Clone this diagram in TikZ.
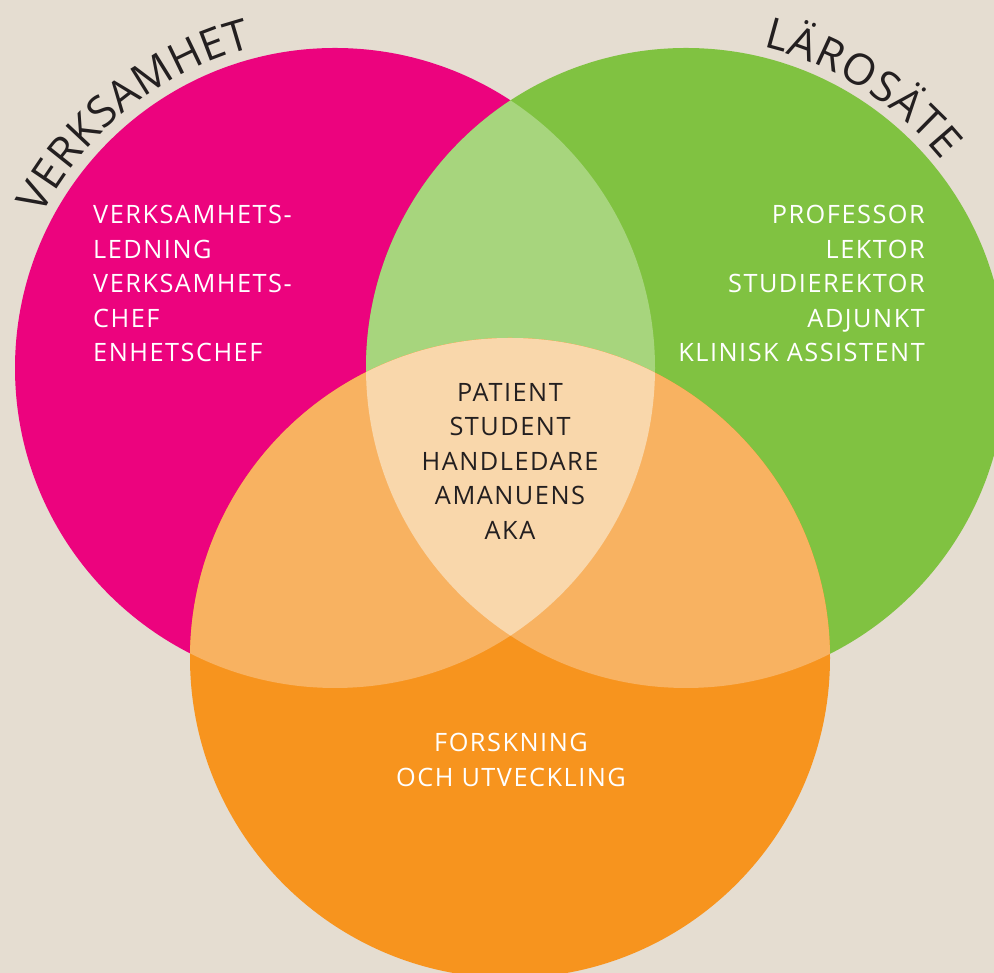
\documentclass[tikz,border=0pt]{standalone}
\usepackage{fontspec}
\setmainfont{Open Sans}
\newfontfamily\blockfont[LetterSpace=6]{Open Sans}
\usetikzlibrary{decorations.text}
\definecolor{bg}{HTML}{E5DDD1}
\definecolor{vpink}{HTML}{EC037E}
\definecolor{vgreen}{HTML}{80C241}
\definecolor{vlgreen}{HTML}{A7D57D}
\definecolor{vorange}{HTML}{F7941E}
\definecolor{vlorange}{HTML}{F8B261}
\definecolor{vpeach}{HTML}{F9D7AB}
\definecolor{tdark}{HTML}{231F20}
\tikzset{
  blocktext/.style={inner sep=0pt, font={\blockfont\fontsize{25.3}{34.5}\selectfont}},
  whitetext/.style={blocktext, text=white},
  darktext/.style={blocktext, text=tdark},
  arctext/.style={decorate, decoration={text along path, text={#1}, text align=fit to path, text color=tdark}}
}
\begin{document}
\begin{tikzpicture}[x=1pt,y=1pt]
\useasboundingbox (0,0) rectangle (994,973);
\clip (0,0) rectangle (994,973);
\fill[bg] (0,0) rectangle (994,973);
\coordinate (P) at (335,605);
\coordinate (G) at (686,605);
\coordinate (O) at (510,315);
% base circles
\fill[vpink] (P) circle[radius=320pt];
\fill[vgreen] (G) circle[radius=320pt];
\begin{scope}
  \clip (P) circle[radius=320pt];
  \fill[vlgreen] (G) circle[radius=320pt];
\end{scope}
\fill[vorange] (O) circle[radius=320pt];
\begin{scope}
  \clip (O) circle[radius=320pt];
  \fill[vlorange] (P) circle[radius=320pt];
  \fill[vlorange] (G) circle[radius=320pt];
\end{scope}
\begin{scope}
  \clip (O) circle[radius=320pt];
  \clip (P) circle[radius=320pt];
  \fill[vpeach] (G) circle[radius=320pt];
\end{scope}
% curved titles
\path[arctext={|\fontsize{43}{45}\selectfont|VERKSAMHET}]
  (P) ++(152.5:331pt) arc[start angle=152.5, end angle=104.5, radius=331pt];
\path[arctext={|\fontsize{43}{45}\selectfont|LÄROSÄTE}]
  (G) ++(76.5:330pt) arc[start angle=76.5, end angle=39, radius=330pt];
% text blocks
\node[whitetext, anchor=north west, align=left] (lefttext) at (93,768)
  {VERKSAMHETS-\\LEDNING\\VERKSAMHETS-\\CHEF\\ENHETSCHEF};
\node[whitetext, anchor=north east, align=right] (righttext) at (925,768)
  {PROFESSOR\\LEKTOR\\STUDIEREKTOR\\ADJUNKT\\KLINISK ASSISTENT};
\node[darktext, anchor=north, align=center] (centertext) at (510,590)
  {PATIENT\\STUDENT\\HANDLEDARE\\AMANUENS\\AKA};
\node[whitetext, anchor=north, align=center] (bottomtext) at (511,240)
  {FORSKNING\\OCH UTVECKLING};
\end{tikzpicture}
\end{document}
